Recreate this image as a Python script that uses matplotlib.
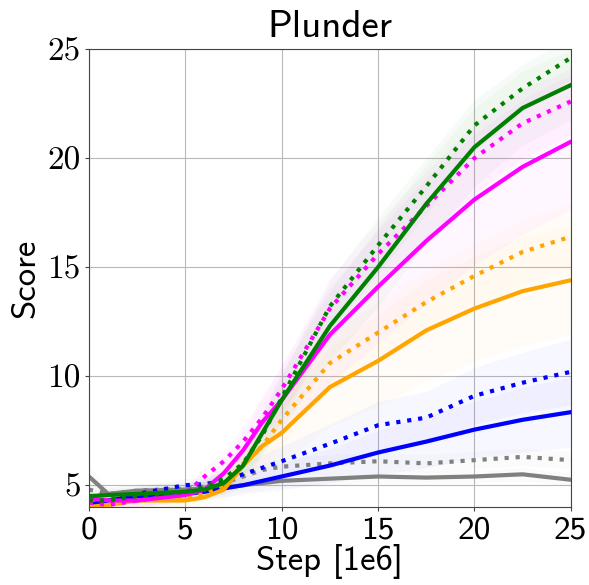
import matplotlib
matplotlib.use("Agg")
import matplotlib.pyplot as plt

steps = [0, 1, 2.5, 5, 6, 7, 8, 9, 10, 12.5, 15, 17.5, 20, 22.5, 25]

# mean scores per run, solid = ours, dotted = variant
green_solid = [4.5, 4.55, 4.6, 4.7, 4.8, 5.1, 5.9, 7.4, 8.9, 12.3, 15.0, 17.9, 20.5, 22.3, 23.35]
green_dot = [4.3, 4.3, 4.5, 4.7, 4.9, 5.3, 6.0, 7.3, 9.0, 13.2, 16.0, 18.7, 21.5, 23.2, 24.6]
magenta_solid = [4.4, 4.3, 4.3, 4.55, 4.8, 5.55, 6.6, 7.9, 8.9, 11.9, 14.1, 16.2, 18.1, 19.6, 20.75]
magenta_dot = [4.2, 4.1, 4.3, 4.6, 5.4, 6.1, 7.0, 8.1, 9.4, 13.1, 15.6, 17.8, 20.0, 21.6, 22.6]
orange_solid = [4.0, 4.1, 4.3, 4.3, 4.45, 4.8, 5.9, 6.8, 7.4, 9.5, 10.7, 12.1, 13.1, 13.9, 14.4]
orange_dot = [4.0, 4.1, 4.3, 4.4, 4.6, 5.0, 6.0, 6.8, 8.0, 10.6, 12.0, 13.4, 14.6, 15.7, 16.4]
blue_solid = [4.1, 4.3, 4.5, 4.6, 4.7, 4.85, 5.0, 5.2, 5.4, 5.9, 6.5, 7.0, 7.55, 8.0, 8.35]
blue_dot = [4.0, 4.3, 4.6, 5.0, 5.05, 5.2, 5.5, 5.8, 6.1, 6.9, 7.75, 8.1, 9.1, 9.7, 10.2]
gray_solid = [5.4, 4.6, 4.75, 4.8, 4.85, 4.9, 5.0, 5.1, 5.2, 5.3, 5.4, 5.35, 5.4, 5.5, 5.25]
gray_dot = [4.8, 4.6, 4.75, 4.85, 4.95, 5.1, 5.4, 5.7, 5.85, 6.0, 6.1, 6.0, 6.15, 6.3, 6.15]

# std bands (rough)
green_solid_sd = [0.3, 0.3, 0.3, 0.3, 0.4, 0.5, 0.7, 1.0, 1.3, 1.6, 1.8, 1.8, 1.8, 1.7, 1.6]
green_dot_sd = [0.3, 0.3, 0.3, 0.3, 0.4, 0.5, 0.6, 0.8, 1.0, 1.2, 1.3, 1.3, 1.2, 1.1, 1.0]
magenta_solid_sd = [0.3, 0.3, 0.3, 0.3, 0.4, 0.6, 0.8, 1.2, 1.6, 2.2, 2.6, 2.9, 3.0, 3.1, 3.1]
magenta_dot_sd = [0.3, 0.3, 0.3, 0.3, 0.4, 0.5, 0.7, 0.9, 1.1, 1.4, 1.5, 1.6, 1.6, 1.6, 1.5]
orange_solid_sd = [0.3, 0.3, 0.3, 0.3, 0.3, 0.5, 0.8, 1.1, 1.4, 1.8, 2.1, 2.3, 2.4, 2.5, 2.5]
orange_dot_sd = [0.3, 0.3, 0.3, 0.3, 0.3, 0.5, 0.7, 0.9, 1.1, 1.3, 1.4, 1.5, 1.5, 1.5, 1.5]
blue_solid_sd = [0.3, 0.3, 0.3, 0.3, 0.3, 0.4, 0.4, 0.5, 0.6, 0.8, 1.0, 1.2, 1.3, 1.5, 1.6]
blue_dot_sd = [0.3, 0.3, 0.3, 0.3, 0.3, 0.4, 0.5, 0.6, 0.7, 0.9, 1.1, 1.2, 1.3, 1.4, 1.5]
gray_solid_sd = [0.5, 0.3, 0.3, 0.3, 0.3, 0.3, 0.3, 0.3, 0.3, 0.3, 0.3, 0.3, 0.3, 0.3, 0.3]
gray_dot_sd = [0.4, 0.3, 0.3, 0.3, 0.3, 0.3, 0.3, 0.3, 0.4, 0.4, 0.4, 0.4, 0.4, 0.4, 0.4]

runs = [
    (gray_solid, gray_solid_sd, "gray", "-"),
    (gray_dot, gray_dot_sd, "gray", ":"),
    (blue_solid, blue_solid_sd, "blue", "-"),
    (blue_dot, blue_dot_sd, "blue", ":"),
    (orange_solid, orange_solid_sd, "orange", "-"),
    (orange_dot, orange_dot_sd, "orange", ":"),
    (magenta_solid, magenta_solid_sd, "magenta", "-"),
    (magenta_dot, magenta_dot_sd, "magenta", ":"),
    (green_dot, green_dot_sd, "green", ":"),
    (green_solid, green_solid_sd, "green", "-"),
]

fig = plt.figure(figsize=(5.89, 5.85), dpi=100)
ax = fig.add_axes([0.151, 0.1333, 0.818, 0.7827])

for mean, sd, color, ls in runs:
    lo = [m - s for m, s in zip(mean, sd)]
    hi = [m + s for m, s in zip(mean, sd)]
    ax.fill_between(steps, lo, hi, color=color, alpha=0.03, linewidth=0)
for mean, sd, color, ls in runs:
    ax.plot(steps, mean, color=color, linestyle=ls, linewidth=3)

ax.set_xlim(0, 25)
ax.set_ylim(4, 25)
ax.set_xticks([0, 5, 10, 15, 20, 25])
ax.set_yticks([5, 10, 15, 20, 25])
ax.grid(True, color="#b8b8b8", linewidth=0.8)
ax.set_axisbelow(True)

for lab in ax.get_xticklabels():
    lab.set_fontfamily("cmss10")
    lab.set_fontsize(24)
for lab in ax.get_yticklabels():
    lab.set_fontfamily("cmr10")
    lab.set_fontsize(24)
ax.tick_params(length=3, color="#444444", pad=3)
for sp in ax.spines.values():
    sp.set_color("#444444")

ax.set_title("Plunder", fontfamily="cmss10", fontsize=28, pad=9)
ax.set_xlabel("Step [1e6]", fontfamily="cmss10", fontsize=25, labelpad=0)
ax.set_ylabel("Score", fontfamily="cmss10", fontsize=25, labelpad=4)

plt.savefig("out.png", dpi=100)
